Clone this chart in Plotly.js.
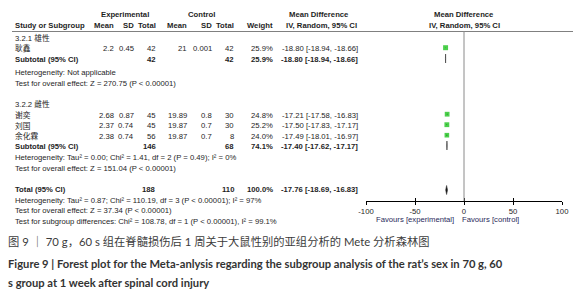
<!DOCTYPE html>
<html><head><meta charset="utf-8">
<script src="https://cdn.plot.ly/plotly-3.0.1.min.js"></script>
<style>html,body{margin:0;padding:0;background:#fff}#c{width:573px;height:295px}</style>
</head><body><div id="c"></div>
<script>
// ---- data ----
const studies   = ['耿鑫', '谢奕', '刘国', '余化霖'];
const subgroup  = [0, 1, 1, 1];
const expMean   = [2.2, 2.68, 2.37, 2.38];
const expSD     = [0.45, 0.87, 0.74, 0.74];
const expN      = [42, 45, 45, 56];
const ctrlMean  = [21, 19.89, 19.87, 19.87];
const ctrlSD    = [0.001, 0.8, 0.7, 0.7];
const ctrlN     = [42, 30, 30, 8];
const weight    = [25.9, 24.8, 25.2, 24.0];
const md        = [-18.80, -17.21, -17.50, -17.49];
const mdLo      = [-18.94, -17.58, -17.83, -18.01];
const mdHi      = [-18.66, -16.83, -17.17, -16.97];

const subgroupNames = ['3.2.1 雄性', '3.2.2 雌性'];
const subExpN   = [42, 146];
const subCtrlN  = [42, 68];
const subWeight = [25.9, 74.1];
const subMD     = [-18.80, -17.40];
const subLo     = [-18.94, -17.62];
const subHi     = [-18.66, -17.17];
const subHet    = ['Heterogeneity: Not applicable',
                   'Heterogeneity: Tau² = 0.00; Chi² = 1.41, df = 2 (P = 0.49); I² = 0%'];
const subTest   = ['Test for overall effect: Z = 270.75 (P < 0.00001)',
                   'Test for overall effect: Z = 151.04 (P < 0.00001)'];

const totExpN = 188, totCtrlN = 110, totWeight = 100.0;
const totMD = -17.76, totLo = -18.69, totHi = -16.83;
const totNotes = ['Heterogeneity: Tau² = 0.87; Chi² = 110.19, df = 3 (P < 0.00001); I² = 97%',
                  'Test for overall effect: Z = 37.34 (P < 0.00001)',
                  'Test for subgroup differences: Chi² = 108.78, df = 1 (P < 0.00001), I² = 99.1%'];

const tickVals = [-100, -50, 0, 50, 100];
const tickText = ['-100', '-50', '0', '50', '100'];
const favours = ['Favours [experimental]', 'Favours [control]'];
const captionCN = '图 9 ｜ 70 g，60 s 组在脊髓损伤后 1 周关于大鼠性别的亚组分析的 Mete 分析森林图';
const captionEN = ['Figure 9 | Forest plot for the Meta-anlysis regarding the subgroup analysis of the rat’s sex in 70 g, 60',
                   's group at 1 week after spinal cord injury'];

// ---- layout helpers ----
const W = 573, H = 295;
const F = 'Liberation Sans, Arial, Noto Sans CJK SC, sans-serif';
const FS = 7.7, TC = '#1e1e1e';
const anns = [];
function t(text, x, y, anchor, opt) {
  opt = opt || {};
  anns.push({text: opt.bold ? '<b>' + text + '</b>' : text, xref: 'paper', yref: 'paper',
    x: x / W, y: 1 - y / H, xanchor: anchor || 'left', yanchor: 'middle', showarrow: false,
    borderpad: 0, font: {family: opt.family || F, size: opt.size || FS, color: opt.color || TC}});
}
const col = {label: 14, eM: 115, eSD: 135, eN: 157, cM: 188, cSD: 213, cN: 235, w: 274, ci: 359};
const fmt = v => v.toFixed(2);
const ciText = (m, l, h) => fmt(m) + ' [' + fmt(l) + ', ' + fmt(h) + ']';

// headers
t('Experimental', 125, 15, 'center', {bold: 1});
t('Control', 201, 15, 'center', {bold: 1});
t('Mean Difference', 319, 15, 'center', {bold: 1});
t('Mean Difference', 464, 15, 'center', {bold: 1});
t('Study or Subgroup', col.label, 26, 'left', {bold: 1});
t('Mean', col.eM, 26, 'right', {bold: 1});
t('SD', col.eSD, 26, 'right', {bold: 1});
t('Total', col.eN, 26, 'right', {bold: 1});
t('Mean', col.cM, 26, 'right', {bold: 1});
t('SD', col.cSD, 26, 'right', {bold: 1});
t('Total', col.cN, 26, 'right', {bold: 1});
t('Weight', col.w, 26, 'right', {bold: 1});
t('IV, Random, 95% CI', 321, 26, 'center', {bold: 1});
t('IV, Random, 95% CI', 464, 26, 'center', {bold: 1});

// row positions (pixels)
const grpRow = [38, 104];
const studyRow = [48.5, 115, 125.5, 136];
const subRow = [59.5, 146.5];
const hetRow = [72, 157];
const testRow = [83, 168];
const totRow = 189.5;
const totNoteRow = [200, 210.5, 221];

for (let g = 0; g < 2; g++) {
  t(subgroupNames[g], col.label, grpRow[g]);
  t('Subtotal (95% CI)', col.label, subRow[g], 'left', {bold: 1});
  t(String(subExpN[g]), col.eN, subRow[g], 'right', {bold: 1});
  t(String(subCtrlN[g]), col.cN, subRow[g], 'right', {bold: 1});
  t(subWeight[g].toFixed(1) + '%', col.w, subRow[g], 'right', {bold: 1});
  t(ciText(subMD[g], subLo[g], subHi[g]), col.ci, subRow[g], 'right', {bold: 1});
  t(subHet[g], col.label, hetRow[g]);
  t(subTest[g], col.label, testRow[g]);
}
for (let i = 0; i < studies.length; i++) {
  const y = studyRow[i];
  t(studies[i], col.label, y);
  t(String(expMean[i]), col.eM, y, 'right');
  t(String(expSD[i]), col.eSD, y, 'right');
  t(String(expN[i]), col.eN, y, 'right');
  t(String(ctrlMean[i]), col.cM, y, 'right');
  t(String(ctrlSD[i]), col.cSD, y, 'right');
  t(String(ctrlN[i]), col.cN, y, 'right');
  t(weight[i].toFixed(1) + '%', col.w, y, 'right');
  t(ciText(md[i], mdLo[i], mdHi[i]), col.ci, y, 'right');
}
t('Total (95% CI)', col.label, totRow, 'left', {bold: 1});
t(String(totExpN), col.eN, totRow, 'right', {bold: 1});
t(String(totCtrlN), col.cN, totRow, 'right', {bold: 1});
t(totWeight.toFixed(1) + '%', col.w, totRow, 'right', {bold: 1});
t(ciText(totMD, totLo, totHi), col.ci, totRow, 'right', {bold: 1});
totNotes.forEach((s, k) => t(s, col.label, totNoteRow[k]));

t(favours[0], 455, 219, 'right', {color: '#2a2a5a'});
t(favours[1], 461, 219, 'left', {color: '#2a2a5a'});

// captions
const CF = 'Lato, Noto Sans CJK SC, sans-serif';
t(captionCN, 7, 242, 'left', {family: CF, size: 11.3, color: '#3c3c3c'});
t(captionEN[0], 7, 263, 'left', {family: CF, size: 11.2, color: '#333', bold: 1});
t(captionEN[1], 7, 282, 'left', {family: CF, size: 11.2, color: '#333', bold: 1});

// ---- plot area (forest) ----
const yTop = 31, yAxis = 201;
const shapes = [
  {type: 'line', xref: 'paper', yref: 'paper', x0: 12 / W, x1: 1, y0: 1 - 31.5 / H, y1: 1 - 31.5 / H,
   line: {color: '#808080', width: 1}},
  {type: 'line', xref: 'x', yref: 'y', x0: 0, x1: 0, y0: yTop, y1: yAxis, line: {color: '#8a8a8a', width: 1}}
];
function diamond(m, l, h, y) {
  shapes.push({type: 'path', xref: 'x', yref: 'y',
    path: `M ${l} ${y} L ${m} ${y - 4.5} L ${h} ${y} L ${m} ${y + 4.5} Z`,
    fillcolor: '#111', line: {color: '#333', width: 0.6}});
}
for (let g = 0; g < 2; g++) diamond(subMD[g], subLo[g], subHi[g], subRow[g] - 1);
diamond(totMD, totLo, totHi, totRow + 0.5);

const traces = [{
  type: 'scatter', mode: 'markers', x: md, y: studyRow.map(v => v - 0.8),
  xaxis: 'x', yaxis: 'y',
  error_x: {type: 'data', symmetric: false, array: md.map((m, i) => mdHi[i] - m),
            arrayminus: md.map((m, i) => m - mdLo[i]), color: '#000', thickness: 1, width: 0},
  marker: {symbol: 'square', size: weight.map(w => w / 5.2), color: '#00bb00', line: {width: 0}},
  hoverinfo: 'skip', showlegend: false
}, {
  type: 'scatter', mode: 'markers', x: [0], y: [yAxis], xaxis: 'x2', yaxis: 'y',
  marker: {opacity: 0}, hoverinfo: 'skip', showlegend: false
}];

const dom = [366 / W, 562 / W];
const layout = {
  width: W, height: H, margin: {l: 0, r: 0, t: 0, b: 0},
  paper_bgcolor: '#fff', plot_bgcolor: 'rgba(0,0,0,0)', showlegend: false,
  xaxis: {domain: dom, range: [-100, 100], anchor: 'y', tickvals: tickVals, ticktext: tickText,
    ticks: 'outside', ticklen: 3, tickcolor: '#000', showline: true, linecolor: '#000', linewidth: 1,
    showgrid: false, zeroline: false, tickfont: {family: F, size: 7.7, color: TC}, fixedrange: true},
  xaxis2: {domain: dom, range: [-100, 100], anchor: 'y', overlaying: 'x', tickvals: tickVals,
    ticks: 'inside', ticklen: 3, tickcolor: '#000', showticklabels: false, showline: false,
    showgrid: false, zeroline: false},
  yaxis: {domain: [1 - yAxis / H, 1 - yTop / H], range: [yAxis, yTop], visible: false,
    showgrid: false, zeroline: false, fixedrange: true},
  shapes: shapes, annotations: anns
};
Plotly.newPlot('c', traces, layout, {staticPlot: true, displayModeBar: false});
</script></body></html>
